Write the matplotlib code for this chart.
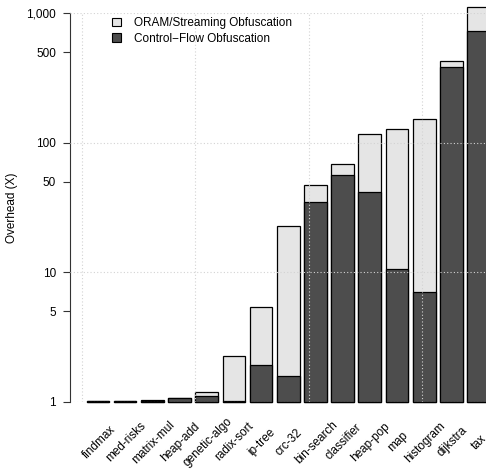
import numpy as np
import matplotlib
matplotlib.use('Agg')
import matplotlib.pyplot as plt
from matplotlib.patches import Patch

plt.rcParams['font.family'] = ['Liberation Sans', 'DejaVu Sans']
plt.rcParams['font.size'] = 8.5

# ---------------- data ----------------
benchmarks = ['findmax', 'med-risks', 'matrix-mul', 'heap-add', 'genetic-algo',
              'radix-sort', 'ip-tree', 'crc-32', 'bin-search', 'classifier',
              'heap-pop', 'map', 'histogram', 'dijkstra', 'tax']
oram_total = [1.02, 1.02, 1.03, 1.08, 1.20, 2.25, 5.4, 22.6, 46.9, 68.2,
              116, 127, 153, 427, 1110]          # ORAM/Streaming obfuscation
control_flow = [1.01, 1.01, 1.02, 1.07, 1.11, 1.02, 1.94, 1.59, 34.6, 56.7,
                41.9, 10.7, 7.05, 380, 725]      # Control-flow obfuscation
yticks = [1, 5, 10, 50, 100, 500, 1000]
ytick_labels = ['1', '5', '10', '50', '100', '500', '1,000']

LIGHT, DARK = '#e5e5e5', '#4d4d4d'

# R barplot geometry: width 1, space 0.2
centers = 0.7 + 1.2 * np.arange(len(benchmarks))

W, H = 486, 470
fig = plt.figure(figsize=(W / 100, H / 100), dpi=100)
ax = fig.add_axes([70 / W, (H - 402) / H, (506 - 70) / W, (402 - 13) / H])

ax.set_yscale('log')
ax.set_ylim(1, 1000)
ax.set_xlim(-0.53, 18.71)

# bars (R draws them with xpd, so do not clip the tall one)
ax.bar(centers, np.array(oram_total) - 1, bottom=1, width=1.0, color=LIGHT,
       edgecolor='black', linewidth=0.9, zorder=2, clip_on=False)
ax.bar(centers, np.array(control_flow) - 1, bottom=1, width=1.0, color=DARK,
       edgecolor='black', linewidth=0.9, zorder=3, clip_on=False)

# dotted light-gray grid, drawn over the bars like R's grid()
for gx in [0, 5, 10, 15]:
    ax.axvline(gx, color='lightgray', ls=(0, (1, 2)), lw=0.8, zorder=4)
for gy in [1, 10, 100, 1000]:
    ax.axhline(gy, color='lightgray', ls=(0, (1, 2)), lw=0.8, zorder=4)

# axes styling: only the left axis
for s in ['top', 'right', 'bottom']:
    ax.spines[s].set_visible(False)
ax.spines['left'].set_linewidth(0.8)
ax.spines['left'].set_color('#333333')
ax.set_yticks(yticks)
ax.set_yticklabels(ytick_labels)
ax.yaxis.set_minor_locator(matplotlib.ticker.NullLocator())
ax.tick_params(axis='y', length=5, width=0.8, pad=5, color='#333333')
ax.set_xticks([])
ax.set_ylabel('Overhead (X)')
ax.yaxis.set_label_coords((18 - 70) / (506 - 70), 0.5)

# rotated benchmark names centred under each bar
for c, name in zip(centers, benchmarks):
    ax.annotate(name, xy=(c, 1), xytext=(1, -40), textcoords='offset pixels',
                rotation=45, ha='center', va='center', rotation_mode='anchor',
                annotation_clip=False)

handles = [Patch(facecolor=LIGHT, edgecolor='black', linewidth=0.8,
                 label='ORAM/Streaming Obfuscation'),
           Patch(facecolor=DARK, edgecolor='black', linewidth=0.8,
                 label='Control\u2212Flow Obfuscation')]
fig.legend(handles=handles, loc='upper left',
           bbox_to_anchor=(112 / W, 1 - 17 / H), frameon=False,
           handlelength=0.75, handleheight=0.75, handletextpad=1.1,
           labelspacing=0.3, borderpad=0, borderaxespad=0)

fig.savefig('out.png', dpi=100)
